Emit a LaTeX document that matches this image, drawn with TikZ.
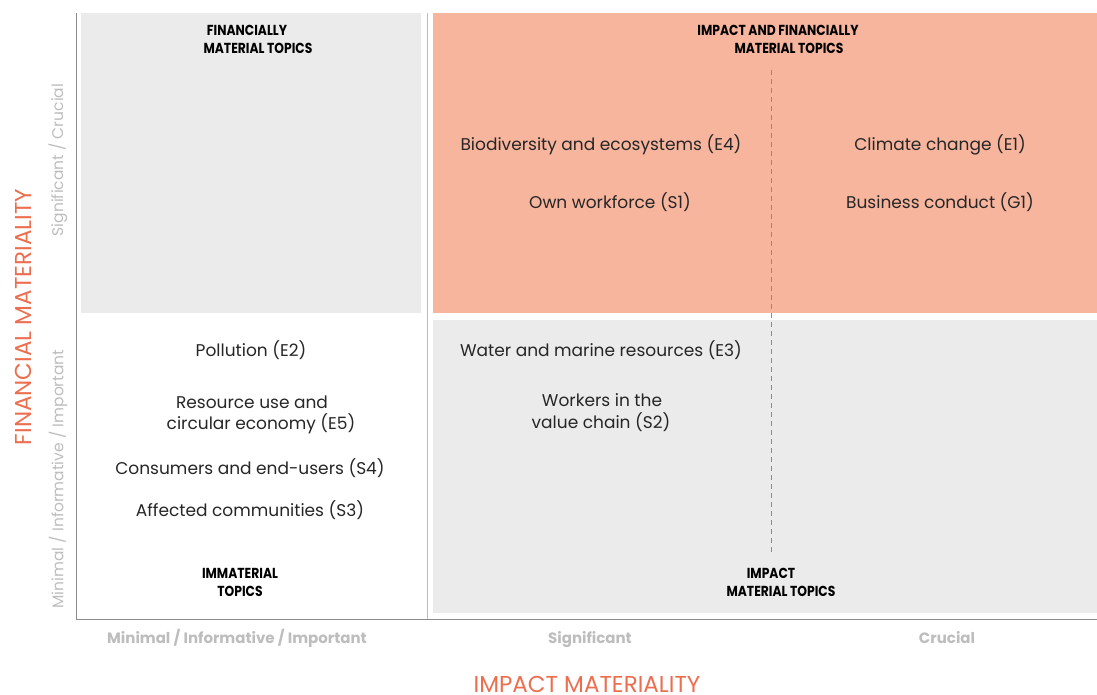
\documentclass[tikz,border=0pt]{standalone}
\usepackage{fontspec}
\setmainfont{Poppins}
\newfontfamily\labfont[FakeStretch=0.85]{Poppins}
\usetikzlibrary{calc}
\definecolor{salmon}{HTML}{F7B59E}
\definecolor{boxgray}{HTML}{EBEBEB}
\definecolor{axisgray}{HTML}{8C8C8C}
\definecolor{ticgray}{HTML}{BDBDBD}
\definecolor{accent}{HTML}{EC6E4E}
\definecolor{txt}{HTML}{262626}
\tikzset{
  topic/.style={font=\fontsize{17}{19}\selectfont, text=txt, inner sep=0pt, align=center},
  quad/.style={font=\labfont\bfseries\fontsize{14.5}{18}\selectfont, text=black, inner sep=0pt, align=center},
  tick/.style={font=\fontsize{15}{17}\selectfont\bfseries, text=ticgray, inner sep=0pt, anchor=base},
  ytick/.style={font=\fontsize{15.5}{17}\selectfont, text=ticgray, inner sep=0pt, rotate=90},
  axislab/.style={font=\fontsize{23}{25}\selectfont, text=accent, inner sep=0pt},
}
\begin{document}
\begin{tikzpicture}[x=1pt,y=-1pt]
\useasboundingbox (0,0) rectangle (1097,694);
% quadrant fills
\fill[boxgray] (81,13) rectangle (421,313);
\fill[salmon] (433,13) rectangle (1097,313);
\fill[boxgray] (433,320) rectangle (1097,613);
% axes
\coordinate (o) at (76,619);
\coordinate (ytop) at (76,13);
\coordinate (xend) at (1097,619);
\draw[axisgray, line width=1pt] (ytop) -- (o) -- (xend);
\coordinate (sepT) at (427,13);
\coordinate (sepB) at (427,619);
\draw[ticgray, line width=0.8pt] (sepT) -- (sepB);
\coordinate (dT) at (771,70);
\coordinate (dB) at (771,552);
\draw[axisgray, line width=0.7pt, dash pattern=on 5pt off 4pt] (dT) -- (dB);
% quadrant titles
\node[quad] (fm1) at (247,30) {FINANCIALLY};
\node[quad] (fm2) at (258,48) {MATERIAL TOPICS};
\node[quad] (if1) at (778,30) {IMPACT AND FINANCIALLY};
\node[quad] (if2) at (789,48) {MATERIAL TOPICS};
\node[quad] (im1) at (240,573) {IMMATERIAL};
\node[quad] (im2) at (240,591) {TOPICS};
\node[quad] (ip1) at (771,573) {IMPACT};
\node[quad] (ip2) at (781,591) {MATERIAL TOPICS};
% topics
\node[topic] (e4) at (601,145) {Biodiversity and ecosystems (E4)};
\node[topic] (s1) at (610,202) {Own workforce (S1)};
\node[topic] (e1) at (940,145) {Climate change (E1)};
\node[topic] (g1) at (940,202) {Business conduct (G1)};
\node[topic] (e2) at (251,350) {Pollution (E2)};
\node[topic] (e5a) at (252,402) {Resource use and};
\node[topic] (e5b) at (261,424) {circular economy (E5)};
\node[topic] (s4) at (250,468) {Consumers and end-users (S4)};
\node[topic] (s3) at (250,510) {Affected communities (S3)};
\node[topic] (e3) at (601,350) {Water and marine resources (E3)};
\node[topic] (s2a) at (602,400) {Workers in the};
\node[topic] (s2b) at (601,422) {value chain (S2)};
% tick labels
\node[tick] (xt1) at (237,643) {Minimal / Informative / Important};
\node[tick] (xt2) at (590,643) {Significant};
\node[tick] (xt3) at (947,643) {Crucial};
\node[ytick] (yt1) at (58,160) {Significant / Crucial};
\node[ytick] (yt2) at (58,479) {Minimal / Informative / Important};
% axis titles
\node[axislab, anchor=base] (xa) at (587,692) {IMPACT MATERIALITY};
\node[axislab, rotate=90] (ya) at (23,317) {FINANCIAL MATERIALITY};
\end{tikzpicture}
\end{document}
